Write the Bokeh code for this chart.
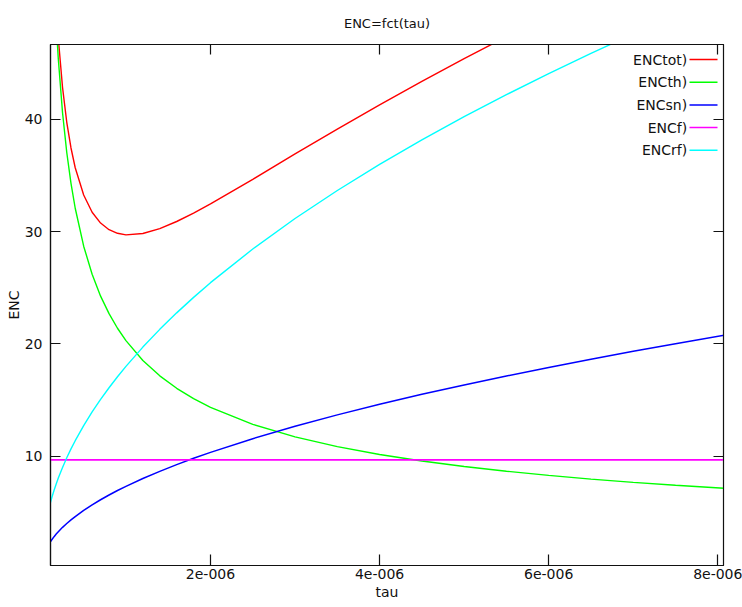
from bokeh.plotting import figure
from bokeh.models import (Range1d, FixedTicker, CustomJSTickFormatter, LinearAxis,
                          Label, BoxAnnotation)
from bokeh.embed import file_html
from bokeh.resources import INLINE

# ---- data ----
tau = [1.0e-7, 1.25e-7, 1.5e-7, 1.75e-7, 2.0e-7, 2.5e-7, 3.0e-7, 3.5e-7, 4.0e-7,
       5.0e-7, 6.0e-7, 7.0e-7, 8.0e-7, 9.0e-7, 1.0e-6, 1.2e-6, 1.4e-6, 1.6e-6,
       1.8e-6, 2.0e-6, 2.5e-6, 3.0e-6, 3.5e-6, 4.0e-6, 4.5e-6, 5.0e-6, 5.5e-6,
       6.0e-6, 6.5e-6, 7.0e-6, 7.5e-6, 8.1e-6]

enc_tot = [65.22, 58.63, 53.82, 50.15, 47.22, 42.85, 39.75, 37.46, 35.70, 33.27,
           31.73, 30.77, 30.18, 29.86, 29.72, 29.84, 30.28, 30.91, 31.65, 32.48,
           34.67, 36.93, 39.14, 41.31, 43.40, 45.43, 47.37, 49.27, 51.09, 52.86,
           54.59, 56.58]
enc_th = [64.2, 57.42, 52.41, 48.53, 45.39, 40.6, 37.06, 34.31, 32.09, 28.71,
          26.21, 24.26, 22.70, 21.40, 20.3, 18.53, 17.16, 16.05, 15.13, 14.35,
          12.84, 11.72, 10.85, 10.15, 9.57, 9.08, 8.66, 8.29, 7.96, 7.67, 7.41, 7.13]
enc_sn = [2.31, 2.58, 2.83, 3.06, 3.27, 3.66, 4.00, 4.32, 4.62, 5.17, 5.66, 6.12,
          6.54, 6.94, 7.31, 8.01, 8.65, 9.25, 9.81, 10.34, 11.56, 12.66, 13.68,
          14.62, 15.51, 16.35, 17.14, 17.91, 18.64, 19.34, 20.02, 20.80]
enc_f = [9.68, 9.68, 9.68, 9.68, 9.68, 9.68, 9.68, 9.68, 9.68, 9.68, 9.68, 9.68,
         9.68, 9.68, 9.68, 9.68, 9.68, 9.68, 9.68, 9.68, 9.68, 9.68, 9.68, 9.68,
         9.68, 9.68, 9.68, 9.68, 9.68, 9.68, 9.68, 9.68]
enc_rf = [5.69, 6.36, 6.97, 7.53, 8.05, 9.0, 9.86, 10.65, 11.38, 12.73, 13.94,
          15.06, 16.10, 17.08, 18.0, 19.72, 21.30, 22.77, 24.15, 25.46, 28.46,
          31.18, 33.67, 36.0, 38.18, 40.25, 42.21, 44.09, 45.89, 47.62, 49.30, 51.23]

x_ticks = [2e-6, 4e-6, 6e-6, 8e-6]
y_ticks = [10, 20, 30, 40]

series = [("ENCtot)", enc_tot, "#ff0000", 1.4),
          ("ENCth)", enc_th, "#00ff00", 1.4),
          ("ENCsn)", enc_sn, "#0000ff", 1.5),
          ("ENCf)", enc_f, "#ff00ff", 1.7),
          ("ENCrf)", enc_rf, "#00ffff", 1.4)]

FONT = "DejaVu Sans"
INK = "#111111"

p = figure(width=742, height=607, output_backend="svg", toolbar_location=None,
           x_range=Range1d(1.076e-7, 8.0674e-6), y_range=Range1d(0.261, 46.68),
           min_border_left=50, min_border_right=19, min_border_top=44,
           min_border_bottom=42, title="ENC=fct(tau)",
           x_axis_label="tau", y_axis_label="ENC")

p.title.align = "center"
p.title.text_font = FONT
p.title.text_font_size = "13px"
p.title.text_font_style = "normal"
p.title.text_color = INK
p.title.standoff = 27

p.xgrid.visible = False
p.ygrid.visible = False
p.outline_line_color = INK
p.outline_line_width = 1.2
p.background_fill_color = "white"
p.border_fill_color = "white"

fmt = CustomJSTickFormatter(code="""
const s = tick.toExponential(0);
return s.replace(/e([+-])(\\d+)$/, (m, sg, d) => 'e' + sg + d.padStart(3, '0'));
""")

for ax in p.xaxis:
    ax.ticker = FixedTicker(ticks=x_ticks)
    ax.formatter = fmt
    ax.major_tick_in = 11
    ax.major_tick_out = 0
    ax.major_label_standoff = 3
    ax.axis_label_standoff = 2

for ax in p.yaxis:
    ax.ticker = FixedTicker(ticks=y_ticks)
    ax.major_tick_in = 10
    ax.major_tick_out = 0
    ax.major_label_standoff = 8
    ax.axis_label_standoff = 0

for ax in list(p.xaxis) + list(p.yaxis):
    ax.minor_tick_line_color = None
    ax.axis_line_color = INK
    ax.axis_line_width = 1.2
    ax.major_tick_line_color = INK
    ax.major_tick_line_width = 1.2
    ax.major_label_text_font = FONT
    ax.major_label_text_font_size = "14px"
    ax.major_label_text_color = INK
    ax.axis_label_text_font = FONT
    ax.axis_label_text_font_size = "14px"
    ax.axis_label_text_font_style = "normal"
    ax.axis_label_text_color = INK

# mirrored tick marks on top and right (no labels)
blank = CustomJSTickFormatter(code="return '';")
top = LinearAxis(ticker=FixedTicker(ticks=x_ticks), formatter=blank,
                 major_tick_in=10, major_tick_out=0, minor_tick_line_color=None,
                 major_label_standoff=0, axis_line_color=INK,
                 major_tick_line_color=INK, major_tick_line_width=1.2)
right = LinearAxis(ticker=FixedTicker(ticks=y_ticks), formatter=blank,
                   major_tick_in=10, major_tick_out=0, minor_tick_line_color=None,
                   major_label_standoff=0, axis_line_color=INK,
                   major_tick_line_color=INK, major_tick_line_width=1.2)
p.add_layout(top, "above")
p.add_layout(right, "right")

for name, vals, color, lw in series:
    p.line(tau, vals, line_color=color, line_width=lw)

# legend: label text then a line sample, inside top-right of the frame
for i, (name, vals, color, lw) in enumerate(series):
    yc = 506 - 22.7 * i
    p.add_layout(Label(x=636.7, y=yc, x_units="screen", y_units="screen",
                       text=name, text_align="right", text_baseline="middle",
                       text_font=FONT, text_font_size="14px", text_color=INK))
    p.add_layout(BoxAnnotation(left=639, right=667, bottom=yc - 0.75, top=yc + 0.75,
                               left_units="screen", right_units="screen",
                               top_units="screen", bottom_units="screen",
                               fill_color=color, fill_alpha=1.0, line_color=None))

open("out.html", "w").write(file_html(p, INLINE))
